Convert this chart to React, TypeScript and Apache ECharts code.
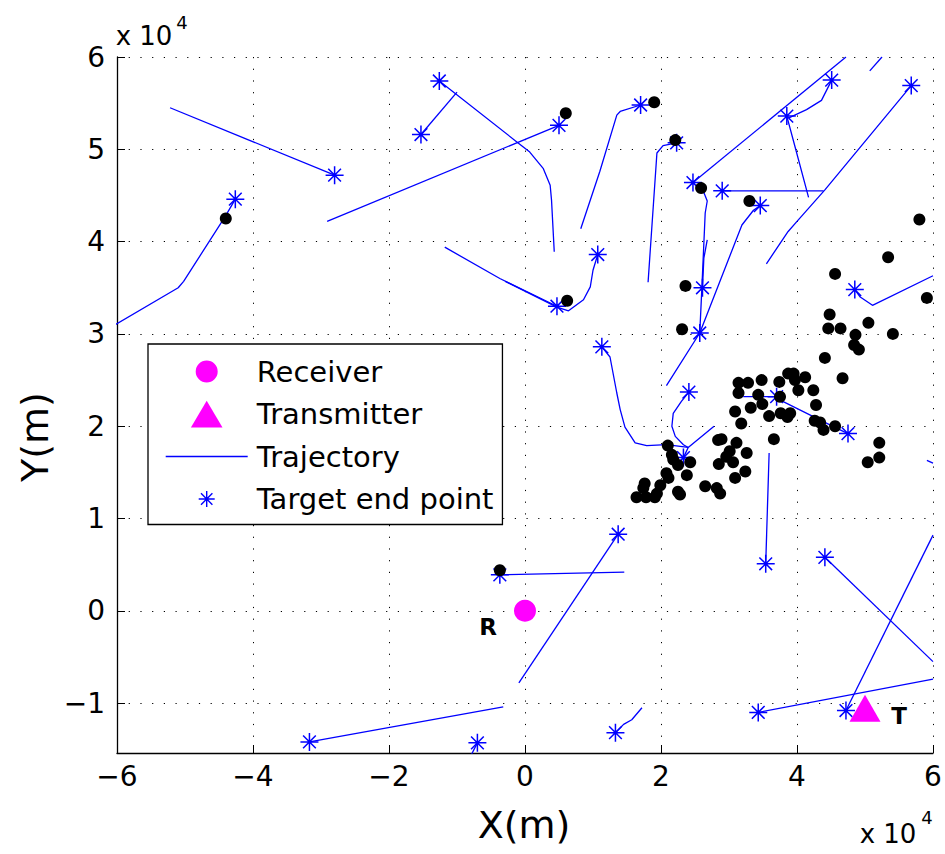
import React, { useEffect, useRef } from 'react';
import * as echarts from 'echarts';

// all coordinates in units of 1e4 m (the axes show "x 10^4")
const UNIT = 10000;

const X_TICKS = [-6, -4, -2, 0, 2, 4, 6];
const Y_TICKS = [-1, 0, 1, 2, 3, 4, 5, 6];

const receiverPos = [[0, 0]];
const transmitterPos = [[5, -1]];

const trajectories: number[][][] = [
  [[-6.05, 3.09], [-5.1, 3.5], [-5.02, 3.57], [-4.41, 4.27], [-4.26, 4.46]],
  [[-5.22, 5.45], [-2.8, 4.72]],
  [[-1.0, 5.62], [-1.53, 5.16]],
  [[0.43, 3.89], [0.39, 4.45], [0.37, 4.61], [0.27, 4.79], [0.07, 4.97], [-0.12, 5.08], [-1.26, 5.74]],
  [[-2.91, 4.22], [0.5, 5.26]],
  [[-1.18, 3.94], [-0.37, 3.6], [0.47, 3.3]],
  [[-0.29, 3.57], [0.47, 3.29], [0.64, 3.25], [0.86, 3.37], [0.96, 3.51], [1.0, 3.69], [1.07, 3.86]],
  [[0.82, 4.14], [1.1, 4.76], [1.35, 5.37], [1.4, 5.41], [1.7, 5.48]],
  [[1.81, 3.56], [1.94, 4.96], [2.03, 5.04], [2.23, 5.07]],
  [[4.72, 6.0], [2.47, 4.64]],
  [[4.17, 4.48], [3.97, 5.03], [3.85, 5.36]],
  [[3.88, 5.34], [4.14, 5.43], [4.36, 5.53], [4.49, 5.72], [4.51, 5.75]],
  [[5.07, 5.85], [5.25, 6.0]],
  [[4.39, 4.55], [2.9, 4.55]],
  [[3.55, 3.76], [3.87, 4.11], [4.0, 4.22], [4.41, 4.56], [5.68, 5.69]],
  [[2.68, 4.02], [2.63, 3.82], [2.61, 3.5]],
  [[2.62, 4.55], [2.68, 4.44], [2.65, 4.31], [2.6, 3.48], [2.57, 3.01]],
  [[2.08, 2.44], [2.57, 3.01], [3.19, 4.18], [3.36, 4.34], [3.46, 4.39]],
  [[6.0, 3.63], [5.11, 3.31], [4.93, 3.4], [4.85, 3.48]],
  [[2.4, 1.77], [2.08, 1.8], [1.79, 1.79], [1.62, 1.82], [1.47, 1.99], [1.4, 2.18], [1.35, 2.36], [1.25, 2.75], [1.13, 2.86]],
  [[2.78, 2.0], [2.4, 1.77], [2.33, 1.66]],
  [[2.4, 1.77], [2.33, 1.8], [2.21, 1.89], [2.16, 2.0], [2.18, 2.14], [2.3, 2.27], [2.41, 2.37]],
  [[3.21, 2.32], [3.7, 2.32]],
  [[3.7, 2.32], [3.79, 2.27], [4.58, 1.98], [4.75, 1.92]],
  [[3.59, 1.71], [3.54, 0.51]],
  [[1.46, 0.42], [-0.37, 0.39]],
  [[-0.09, -0.78], [1.37, 0.83]],
  [[6.0, -0.55], [4.41, 0.58]],
  [[6.0, 0.82], [4.72, -1.08]],
  [[6.0, -0.74], [3.43, -1.1]],
  [[1.72, -1.05], [1.57, -1.18], [1.45, -1.23], [1.33, -1.32]],
  [[-0.32, -1.04], [-3.17, -1.42]],
  [[-0.79, -1.56], [-0.7, -1.43]],
  [[5.91, 1.63], [6.0, 1.6]],
];

const endPoints: number[][] = [
  [-4.26, 4.46], [-2.8, 4.72], [-1.53, 5.16], [-1.26, 5.74], [0.5, 5.26], [0.47, 3.3],
  [1.07, 3.86], [1.7, 5.48], [2.23, 5.07], [2.47, 4.64], [2.9, 4.55], [3.46, 4.39],
  [3.85, 5.36], [4.51, 5.75], [5.68, 5.69], [2.61, 3.5], [2.57, 3.01], [4.85, 3.48],
  [1.13, 2.86], [2.41, 2.37], [2.33, 1.66], [3.7, 2.32], [4.75, 1.92], [3.54, 0.51],
  [-0.37, 0.39], [1.37, 0.83], [4.41, 0.58], [4.72, -1.08], [3.43, -1.1], [1.33, -1.32],
  [-3.17, -1.42], [-0.7, -1.43],
];

const detections: number[][] = [
  [-4.4, 4.25], [0.6, 5.39], [1.9, 5.51], [2.21, 5.1], [2.59, 4.58], [3.3, 4.44], [0.62, 3.36],
  [-0.37, 0.44], [5.8, 4.24], [5.34, 3.83], [4.56, 3.65], [5.91, 3.39], [4.48, 3.21], [4.46, 3.06],
  [4.64, 3.06], [4.86, 2.99], [5.05, 3.12], [5.41, 3.0], [4.84, 2.88], [4.91, 2.83], [2.36, 3.52],
  [2.31, 3.05], [4.41, 2.74], [4.67, 2.52], [5.21, 1.82], [5.21, 1.66], [5.04, 1.61],
  [3.87, 2.57], [3.95, 2.57], [3.97, 2.5], [4.12, 2.53], [4.02, 2.39], [4.24, 2.39], [4.28, 2.23],
  [4.26, 2.06], [4.34, 2.04], [4.39, 1.96], [4.56, 2.0], [3.66, 1.86], [3.74, 2.48], [3.48, 2.5],
  [3.28, 2.47], [3.14, 2.47], [3.14, 2.36], [3.43, 2.34], [3.75, 2.32], [3.49, 2.24], [3.32, 2.2],
  [3.09, 2.16], [3.59, 2.11], [3.76, 2.14], [3.9, 2.14], [3.86, 2.1], [3.18, 2.03], [2.84, 1.85],
  [2.89, 1.86], [3.11, 1.82], [3.26, 1.71], [3.01, 1.73], [2.96, 1.67], [3.06, 1.61], [2.85, 1.59],
  [3.24, 1.51], [3.09, 1.44], [2.65, 1.35], [2.82, 1.33], [2.87, 1.27], [2.1, 1.79], [2.16, 1.69],
  [2.18, 1.64], [2.25, 1.58], [2.43, 1.61], [2.38, 1.47], [2.08, 1.49], [2.11, 1.44], [1.99, 1.36],
  [1.76, 1.38], [1.74, 1.33], [1.64, 1.23], [1.78, 1.23], [1.91, 1.23], [1.94, 1.27], [2.25, 1.29],
  [2.28, 1.26],
];

const toM = (p: number[]) => [p[0] * UNIT, p[1] * UNIT];
const fmt = (n: number) => (n < 0 ? '\u2212' + Math.abs(n) : String(n));

const STAR = 'path://M9 0L9 18M0 9L18 9M2.64 2.64L15.36 15.36M15.36 2.64L2.64 15.36';
const LEG_CIRCLE = 'path://M0 0M82 27M52 13.5A11 11 0 1 1 30 13.5A11 11 0 1 1 52 13.5Z';
const LEG_TRI = 'path://M0 0M82 27M41 0.3L56.8 27L25.2 27Z';
const LEG_LINE = 'path://M0 0M82 27M0 13.5L82 13.5';
const LEG_STAR = 'path://M0 0M82 27M41 5.5L41 21.5M33 13.5L49 13.5M35.3 7.8L46.7 19.2M46.7 7.8L35.3 19.2';

const BLUE = '#0000ff';
const MAGENTA = '#ff00ff';
const FONT = 'DejaVu Sans';

export default function App() {
  const ref = useRef<HTMLDivElement>(null);
  useEffect(() => {
    document.body.style.margin = '0';
    const chart = echarts.init(ref.current!, null, { renderer: 'svg' });
    const gridDots = { color: '#000', width: 1, type: [1.2, 10.5] as number[] };
    const series: any[] = [];
    trajectories.forEach((t) => {
      series.push({
        name: 'Trajectory',
        type: 'line',
        data: t.map(toM),
        symbol: 'none',
        silent: true,
        lineStyle: { color: BLUE, width: 1.3, opacity: 1 },
        itemStyle: { color: BLUE },
        z: 2,
      });
    });
    series.push({
      name: 'Target end point',
      type: 'scatter',
      data: endPoints.map(toM),
      symbol: STAR,
      symbolSize: 18,
      silent: true,
      itemStyle: { color: 'rgba(0,0,0,0)', borderColor: BLUE, borderWidth: 1.5, opacity: 1 },
      z: 3,
    });
    series.push({
      name: 'Detections',
      type: 'scatter',
      data: detections.map(toM),
      symbol: 'circle',
      symbolSize: 12,
      silent: true,
      itemStyle: { color: '#000', opacity: 1 },
      z: 4,
    });
    series.push({
      name: 'Receiver',
      type: 'scatter',
      data: receiverPos.map(toM),
      symbol: 'circle',
      symbolSize: 22,
      silent: true,
      itemStyle: { color: MAGENTA, opacity: 1 },
      label: {
        show: true, formatter: 'R', position: 'inside', offset: [-37, 16],
        color: '#000', fontWeight: 'bold', fontSize: 23, fontFamily: FONT,
      },
      z: 5,
    });
    series.push({
      name: 'Transmitter',
      type: 'scatter',
      data: transmitterPos.map(toM),
      symbol: 'triangle',
      symbolSize: [31, 27],
      symbolOffset: [0, 5],
      silent: true,
      itemStyle: { color: MAGENTA, opacity: 1 },
      label: {
        show: true, formatter: 'T', position: 'inside', offset: [34, 8],
        color: '#000', fontWeight: 'bold', fontSize: 23, fontFamily: FONT,
      },
      z: 5,
    });

    chart.setOption({
      animation: false,
      backgroundColor: '#fff',
      grid: { left: 117, right: 12, top: 57, bottom: 101, containLabel: false },
      xAxis: {
        type: 'value',
        min: X_TICKS[0] * UNIT,
        max: X_TICKS[X_TICKS.length - 1] * UNIT,
        interval: 2 * UNIT,
        axisLine: { onZero: false, lineStyle: { color: '#000', width: 1.3 } },
        axisTick: { inside: true, length: 8, lineStyle: { color: '#000', width: 1 } },
        axisLabel: {
          margin: 9, color: '#000', fontSize: 28, fontFamily: FONT,
          formatter: (v: number) => fmt(Math.round(v / UNIT)),
        },
        splitLine: { show: true, lineStyle: gridDots },
      },
      yAxis: {
        type: 'value',
        min: -1.54 * UNIT,
        max: Y_TICKS[Y_TICKS.length - 1] * UNIT,
        minInterval: UNIT,
        maxInterval: UNIT,
        splitNumber: 8,
        axisLine: { onZero: false, lineStyle: { color: '#000', width: 1.3 } },
        axisTick: { inside: true, length: 8, lineStyle: { color: '#000', width: 1 } },
        axisLabel: {
          margin: 12, color: '#000', fontSize: 28, fontFamily: FONT, showMinLabel: false,
          formatter: (v: number) => {
            const n = v / UNIT;
            return Y_TICKS.some((t) => Math.abs(t - n) < 1e-6) ? fmt(Math.round(n)) : '';
          },
        },
        splitLine: { show: true, lineStyle: gridDots },
      },
      legend: {
        orient: 'vertical',
        left: 148,
        top: 344,
        padding: [13, 9, 11, 17],
        itemWidth: 82,
        itemHeight: 27,
        itemGap: 13.5,
        backgroundColor: '#fff',
        borderColor: '#000',
        borderWidth: 1.3,
        selectedMode: false,
        textStyle: { fontFamily: FONT, fontSize: 29, color: '#000', lineHeight: 27, padding: [0, 0, 0, 4] },
        data: [
          { name: 'Receiver', icon: LEG_CIRCLE, itemStyle: { color: MAGENTA, opacity: 1, borderWidth: 0 } },
          { name: 'Transmitter', icon: LEG_TRI, itemStyle: { color: MAGENTA, opacity: 1, borderWidth: 0 } },
          {
            name: 'Trajectory', icon: LEG_LINE,
            itemStyle: { color: 'rgba(0,0,0,0)', borderColor: BLUE, borderWidth: 1.3, opacity: 1 },
          },
          {
            name: 'Target end point', icon: LEG_STAR,
            itemStyle: { color: 'rgba(0,0,0,0)', borderColor: BLUE, borderWidth: 1.4, opacity: 1 },
          },
        ],
      },
      graphic: [
        { type: 'text', x: 524, y: 825, style: { text: 'X(m)', fontSize: 38, fontFamily: FONT, fill: '#000', textAlign: 'center', textVerticalAlign: 'middle', verticalAlign: 'middle' } },
        { type: 'text', x: 35, y: 437, rotation: Math.PI / 2, style: { text: 'Y(m)', fontSize: 38, fontFamily: FONT, fill: '#000', textAlign: 'center', textVerticalAlign: 'middle', verticalAlign: 'middle' } },
        { type: 'text', x: 144, y: 36, style: { text: 'x 10', fontSize: 26, fontFamily: FONT, fill: '#000', textAlign: 'center', textVerticalAlign: 'middle', verticalAlign: 'middle' } },
        { type: 'text', x: 182, y: 22, style: { text: '4', fontSize: 18, fontFamily: FONT, fill: '#000', textAlign: 'center', textVerticalAlign: 'middle', verticalAlign: 'middle' } },
        { type: 'text', x: 888, y: 834, style: { text: 'x 10', fontSize: 26, fontFamily: FONT, fill: '#000', textAlign: 'center', textVerticalAlign: 'middle', verticalAlign: 'middle' } },
        { type: 'text', x: 927, y: 817, style: { text: '4', fontSize: 18, fontFamily: FONT, fill: '#000', textAlign: 'center', textVerticalAlign: 'middle', verticalAlign: 'middle' } },
      ],
      series,
    });
    return () => chart.dispose();
  }, []);
  return <div ref={ref} style={{ position: 'absolute', left: 0, top: 0, width: 945, height: 854 }} />;
}
